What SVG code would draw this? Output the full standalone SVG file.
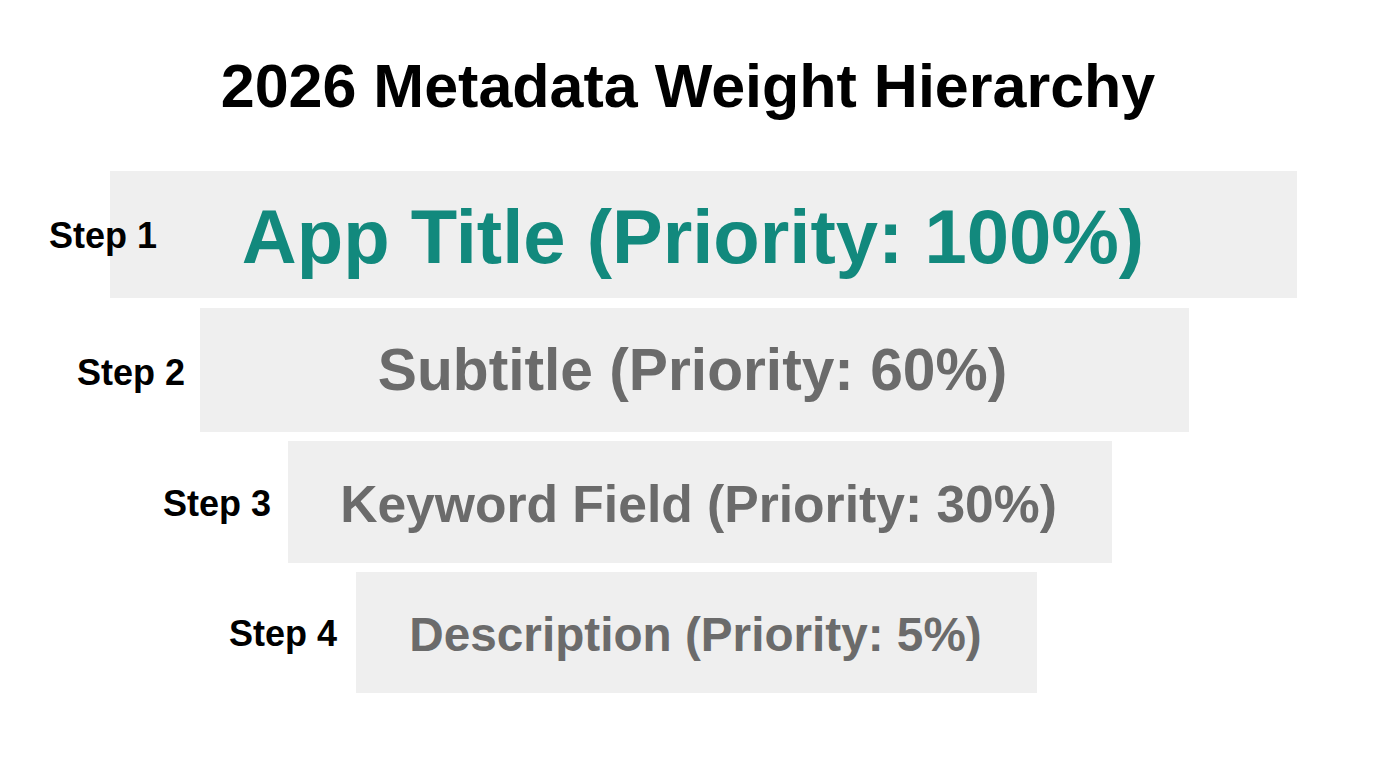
<svg xmlns="http://www.w3.org/2000/svg" width="1376" height="768" viewBox="0 0 1376 768">
<style>
.bar{fill:#efefef}
.step{font-family:"Liberation Sans",Arial,sans-serif;font-weight:bold;fill:#000;font-size:36px}
.lbl{font-family:"Liberation Sans",Arial,sans-serif;font-weight:bold;text-anchor:middle;fill:#6b6b6b}
</style>
<rect width="1376" height="768" fill="#ffffff"/>
<text x="688" y="107" text-anchor="middle" font-family="Liberation Sans, Arial, sans-serif" font-weight="bold" font-size="61" fill="#000">2026 Metadata Weight Hierarchy</text>
<g id="step1">
<rect class="bar" x="110" y="171" width="1187" height="127"/>
<text class="step" x="49" y="248">Step 1</text>
<text class="lbl" x="693" y="263" font-size="76" style="fill:#12897d">App Title (Priority: 100%)</text>
</g>
<g id="step2">
<rect class="bar" x="200" y="308" width="989" height="124"/>
<text class="step" x="77" y="385">Step 2</text>
<text class="lbl" x="692.5" y="390" font-size="58.7">Subtitle (Priority: 60%)</text>
</g>
<g id="step3">
<rect class="bar" x="288" y="441" width="824" height="122"/>
<text class="step" x="163" y="516">Step 3</text>
<text class="lbl" x="698.5" y="522" font-size="51.6">Keyword Field (Priority: 30%)</text>
</g>
<g id="step4">
<rect class="bar" x="356" y="572" width="681" height="121"/>
<text class="step" x="229" y="646">Step 4</text>
<text class="lbl" x="695.5" y="651" font-size="47.7">Description (Priority: 5%)</text>
</g>
<g id="connectors"></g>
</svg>
